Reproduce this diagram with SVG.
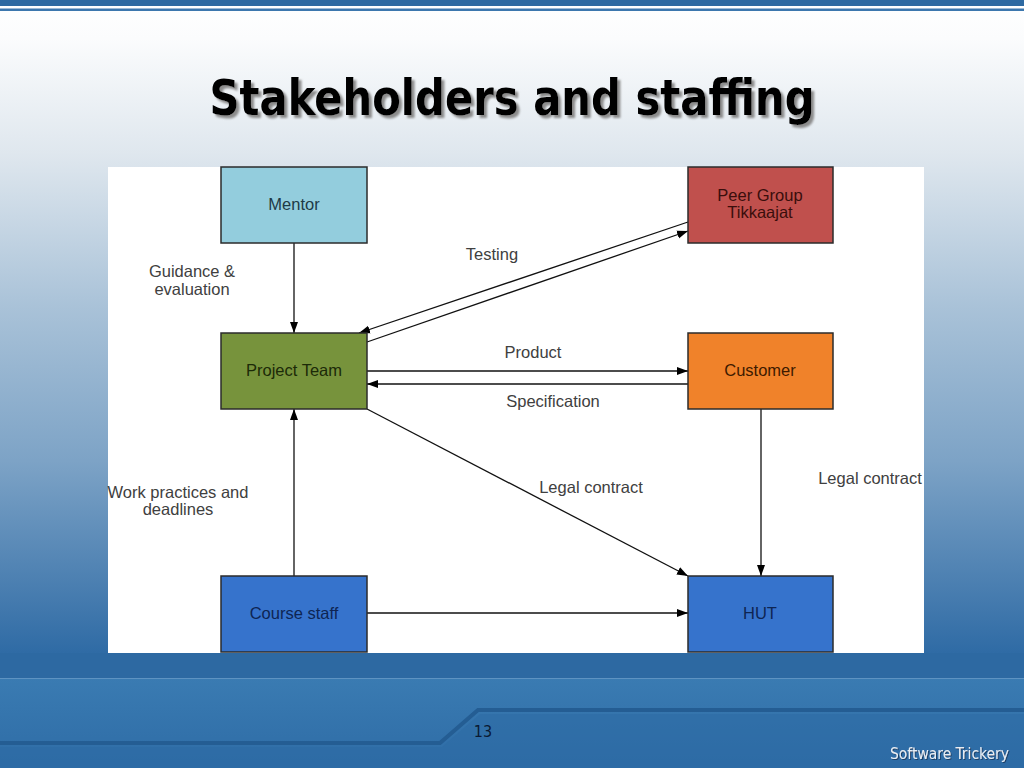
<svg xmlns="http://www.w3.org/2000/svg" width="1024" height="768" viewBox="0 0 1024 768">
<defs>
<linearGradient id="bg" x1="0" y1="0" x2="0" y2="1">
<stop offset="0" stop-color="#FFFFFF"/>
<stop offset="0.05" stop-color="#FBFCFD"/>
<stop offset="0.2" stop-color="#DFE7EE"/>
<stop offset="0.4" stop-color="#A9C2D8"/>
<stop offset="0.6" stop-color="#7DA3C6"/>
<stop offset="0.85" stop-color="#2F6BA5"/>
<stop offset="1" stop-color="#2C67A0"/>
</linearGradient>
<linearGradient id="foot" x1="0" y1="0" x2="0" y2="1">
<stop offset="0" stop-color="#3A7BB2"/>
<stop offset="1" stop-color="#2E6CA6"/>
</linearGradient>
<marker id="arr" markerUnits="userSpaceOnUse" markerWidth="11" markerHeight="10" viewBox="0 0 11 10" refX="11" refY="5" orient="auto">
<path d="M0,1 L11,5 L0,9 z" fill="#000"/>
</marker>
<filter id="tshadow" x="-5%" y="-30%" width="110%" height="160%">
<feGaussianBlur in="SourceAlpha" stdDeviation="1"/>
<feOffset dx="3" dy="3" result="o"/>
<feFlood flood-color="#8C8C8C"/>
<feComposite in2="o" operator="in" result="s"/>
<feMerge><feMergeNode in="s"/><feMergeNode in="SourceGraphic"/></feMerge>
</filter>
<filter id="fshadow" x="-5%" y="-30%" width="110%" height="160%">
<feOffset in="SourceAlpha" dx="1" dy="1" result="o"/>
<feFlood flood-color="#1B3F66"/>
<feComposite in2="o" operator="in" result="s"/>
<feMerge><feMergeNode in="s"/><feMergeNode in="SourceGraphic"/></feMerge>
</filter>
</defs>
<style>
.node rect{stroke:#2b2b2b;stroke-width:1.5}
.nt{font-family:"Liberation Sans",Arial,sans-serif;font-size:16.5px;text-anchor:middle}
.lbl{font-family:"Liberation Sans",Arial,sans-serif;font-size:16.5px;fill:#404040;text-anchor:middle}
.conn line{stroke:#111;stroke-width:1.3;marker-end:url(#arr)}
</style>
<!-- background -->
<rect x="0" y="0" width="1024" height="768" fill="url(#bg)"/>
<rect x="0" y="0" width="1024" height="6" fill="#2E6AA2"/>
<rect x="0" y="8.5" width="1024" height="2.5" fill="#3C77AE"/>
<rect x="0" y="653" width="1024" height="25" fill="#2D69A2"/>
<rect x="0" y="678" width="1024" height="90" fill="url(#foot)"/>
<line x1="0" y1="678.5" x2="1024" y2="678.5" stroke="#5E93C2" stroke-width="1"/>
<path d="M0,743 L440,743 L478,710 L1024,710" fill="none" stroke="#245D93" stroke-width="4"/>
<path d="M0,747 L442,747 L480,714 L1024,714 L1024,768 L0,768 z" fill="#2C6AA3" opacity="0.5"/>
<!-- title -->
<text x="512" y="115" font-family="'DejaVu Sans Condensed','DejaVu Sans',sans-serif" font-stretch="condensed" font-weight="bold" font-size="50" fill="#000" text-anchor="middle" textLength="605" lengthAdjust="spacingAndGlyphs" filter="url(#tshadow)">Stakeholders and staffing</text>
<!-- diagram panel -->
<rect x="108" y="167" width="816" height="486" fill="#FFFFFF"/>
<!-- connectors -->
<g id="connectors" class="conn">
<line x1="294" y1="243" x2="294" y2="333"/>
<line x1="688" y1="222" x2="359" y2="333"/>
<line x1="367" y1="342" x2="688" y2="231"/>
<line x1="367" y1="371" x2="688" y2="371"/>
<line x1="688" y1="384" x2="367" y2="384"/>
<line x1="367" y1="409" x2="688" y2="576"/>
<line x1="761" y1="409" x2="761" y2="576"/>
<line x1="294" y1="576" x2="294" y2="409"/>
<line x1="367" y1="613" x2="688" y2="613"/>
</g>
<!-- labels -->
<g id="labels">
<text class="lbl" x="192" y="277">Guidance &amp;</text>
<text class="lbl" x="192" y="295">evaluation</text>
<text class="lbl" x="492" y="260">Testing</text>
<text class="lbl" x="533" y="358">Product</text>
<text class="lbl" x="553" y="407">Specification</text>
<text class="lbl" x="591" y="493">Legal contract</text>
<text class="lbl" x="870" y="484">Legal contract</text>
<text class="lbl" x="178" y="498">Work practices and</text>
<text class="lbl" x="178" y="515">deadlines</text>
</g>
<!-- nodes -->
<g id="mentor" class="node"><rect x="221" y="167" width="146" height="76" fill="#93CDDD"/><text class="nt" x="294" y="210" fill="#1E3A46">Mentor</text></g>
<g id="peer-group" class="node"><rect x="688" y="167" width="145" height="76" fill="#C0504D"/><text class="nt" x="760" y="201" fill="#3A0E0C">Peer Group</text><text class="nt" x="760" y="218" fill="#3A0E0C">Tikkaajat</text></g>
<g id="project-team" class="node"><rect x="221" y="333" width="146" height="76" fill="#77933C"/><text class="nt" x="294" y="376" fill="#1C2A08">Project Team</text></g>
<g id="customer" class="node"><rect x="688" y="333" width="145" height="76" fill="#F0822A"/><text class="nt" x="760" y="376" fill="#3E1A00">Customer</text></g>
<g id="course-staff" class="node"><rect x="221" y="576" width="146" height="76" fill="#3673CC"/><text class="nt" x="294" y="619" fill="#0E2553">Course staff</text></g>
<g id="hut" class="node"><rect x="688" y="576" width="145" height="76" fill="#3673CC"/><text class="nt" x="760" y="619" fill="#0E2553">HUT</text></g>
<!-- footer texts -->
<text x="483" y="737" font-family="'DejaVu Sans Condensed','DejaVu Sans',sans-serif" font-stretch="condensed" font-size="16" fill="#0A1A33" text-anchor="middle">13</text>
<text x="1009" y="759" font-family="'DejaVu Sans Condensed','DejaVu Sans',sans-serif" font-stretch="condensed" font-size="15" fill="#E6EDF4" text-anchor="end" textLength="119" lengthAdjust="spacingAndGlyphs" filter="url(#fshadow)">Software Trickery</text>
</svg>
